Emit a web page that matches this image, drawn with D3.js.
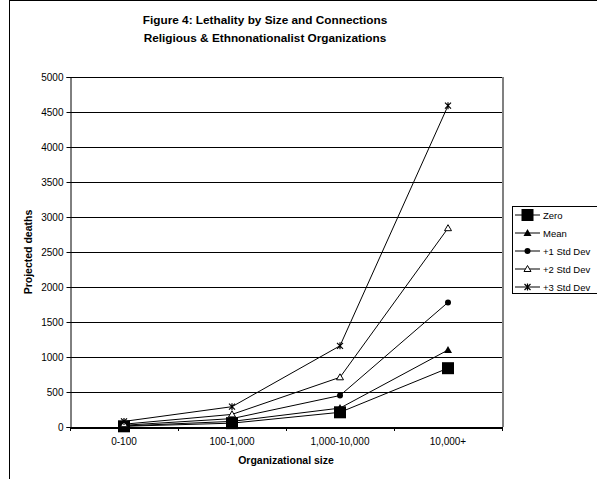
<!DOCTYPE html>
<html><head><meta charset="utf-8">
<script src="https://cdn.jsdelivr.net/npm/d3@7"></script>
<style>body{margin:0;background:#fff}svg{display:block;font-family:"Liberation Sans",Arial,sans-serif}</style>
</head><body>
<script>
const categories = ["0-100", "100-1,000", "1,000-10,000", "10,000+"];
const seriesNames = ["Zero", "Mean", "+1 Std Dev", "+2 Std Dev", "+3 Std Dev"];
const zero = [10, 55, 210, 840];
const mean = [15, 80, 270, 1100];
const sd1 = [25, 120, 450, 1780];
const sd2 = [40, 180, 710, 2840];
const sd3 = [80, 290, 1160, 4590];
const yTicks = [0, 500, 1000, 1500, 2000, 2500, 3000, 3500, 4000, 4500, 5000];
const markers = ["square", "triangle", "circle", "opentri", "star"];
const seriesValues = [zero, mean, sd1, sd2, sd3];

const W = 597, H = 479;
const svg = d3.select("body").append("svg").attr("width", W).attr("height", H);
// outer chart border
svg.append("rect").attr("x", 9.5).attr("y", 0.5).attr("width", 620).attr("height", 490)
  .attr("fill", "#fff").attr("stroke", "#000").attr("stroke-width", 1);

const L = 70, T = 77, R = 502, B = 427;
const x = d3.scaleBand().domain(categories).range([L, R]);
const y = d3.scaleLinear().domain([0, 5000]).range([B, T]);

// gridlines
svg.append("g").selectAll("line").data(yTicks.filter(d => d > 0)).join("line")
  .attr("x1", L).attr("x2", R).attr("y1", d => Math.round(y(d)) + 0.5).attr("y2", d => Math.round(y(d)) + 0.5)
  .attr("stroke", "#000").attr("stroke-width", 1);
// plot area right border (gray)
svg.append("line").attr("x1", R + 1).attr("x2", R + 1).attr("y1", T).attr("y2", B)
  .attr("stroke", "#808080").attr("stroke-width", 2);

// y axis
const ya = svg.append("g").attr("transform", `translate(${L + 0.5},0)`)
  .call(d3.axisLeft(y).tickValues(yTicks).tickSize(4).tickPadding(3).tickFormat(d3.format("d")));
ya.select(".domain").attr("stroke", "#000");
ya.selectAll("text").attr("font-size", 10).attr("fill", "#000").style("font-family", "Liberation Sans, Arial, sans-serif");
ya.selectAll(".tick line").attr("stroke", "#000");

// x axis
const xa = svg.append("g").attr("transform", `translate(0,${B + 0.5})`)
  .call(d3.axisBottom(x).tickSize(0).tickPadding(10));
xa.select(".domain").attr("stroke", "#000").attr("stroke-width", 2);
xa.selectAll("text").attr("font-size", 10).attr("fill", "#000").style("font-family", "Liberation Sans, Arial, sans-serif");
// category boundary ticks
const bounds = categories.map(c => x(c)).concat([R]);
svg.append("g").selectAll("line").data(bounds).join("line")
  .attr("x1", d => Math.round(d) + 0.5).attr("x2", d => Math.round(d) + 0.5)
  .attr("y1", B).attr("y2", B + 4).attr("stroke", "#000");

// lines
const line = d3.line().x((d, i) => x(categories[i]) + x.bandwidth() / 2).y(d => y(d));
function drawMarker(g, type, cx, cy) {
  if (type === "square") g.append("rect").attr("x", cx - 6).attr("y", cy - 6).attr("width", 12).attr("height", 12).attr("fill", "#000");
  else if (type === "triangle") g.append("path").attr("d", `M${cx},${cy - 4}L${cx + 4},${cy + 3}L${cx - 4},${cy + 3}Z`).attr("fill", "#000");
  else if (type === "circle") g.append("circle").attr("cx", cx).attr("cy", cy).attr("r", 3).attr("fill", "#000");
  else if (type === "opentri") g.append("path").attr("d", `M${cx},${cy - 3.5}L${cx + 3.5},${cy + 2.5}L${cx - 3.5},${cy + 2.5}Z`).attr("fill", "#fff").attr("stroke", "#000").attr("stroke-width", 1);
  else if (type === "star") {
    g.append("path").attr("d", `M${cx - 3},${cy - 3}L${cx + 3},${cy + 3}M${cx + 3},${cy - 3}L${cx - 3},${cy + 3}M${cx},${cy - 3.5}L${cx},${cy + 3.5}`)
      .attr("stroke", "#000").attr("stroke-width", 1.2).attr("fill", "none");
  }
}
seriesValues.forEach((vals, si) => {
  const g = svg.append("g");
  g.append("path").attr("d", line(vals)).attr("fill", "none").attr("stroke", "#000").attr("stroke-width", 1);
  vals.forEach((v, i) => drawMarker(g, markers[si], x(categories[i]) + x.bandwidth() / 2, y(v)));
});

// titles
svg.append("text").attr("x", 265).attr("y", 24).attr("text-anchor", "middle").attr("font-size", 11.8).attr("font-weight", "bold")
  .text("Figure 4: Lethality by Size and Connections");
svg.append("text").attr("x", 265).attr("y", 42).attr("text-anchor", "middle").attr("font-size", 11.8).attr("font-weight", "bold")
  .text("Religious & Ethnonationalist Organizations");
svg.append("text").attr("x", 286).attr("y", 464).attr("text-anchor", "middle").attr("font-size", 10.5).attr("font-weight", "bold")
  .text("Organizational size");
svg.append("text").attr("transform", `translate(32,252) rotate(-90)`).attr("text-anchor", "middle").attr("font-size", 10.5).attr("font-weight", "bold")
  .text("Projected deaths");

// legend
const lg = svg.append("g");
lg.append("rect").attr("x", 512.5).attr("y", 206.5).attr("width", 120).attr("height", 87).attr("fill", "#fff").attr("stroke", "#000");
seriesNames.forEach((n, i) => {
  const ly = 215 + i * 18;
  lg.append("line").attr("x1", 515).attr("x2", 540).attr("y1", ly).attr("y2", ly).attr("stroke", "#000");
  drawMarker(lg, markers[i], 527.5, ly);
  lg.append("text").attr("x", 543).attr("y", ly + 3.5).attr("font-size", 9.5).text(n);
});
</script>
</body></html>
